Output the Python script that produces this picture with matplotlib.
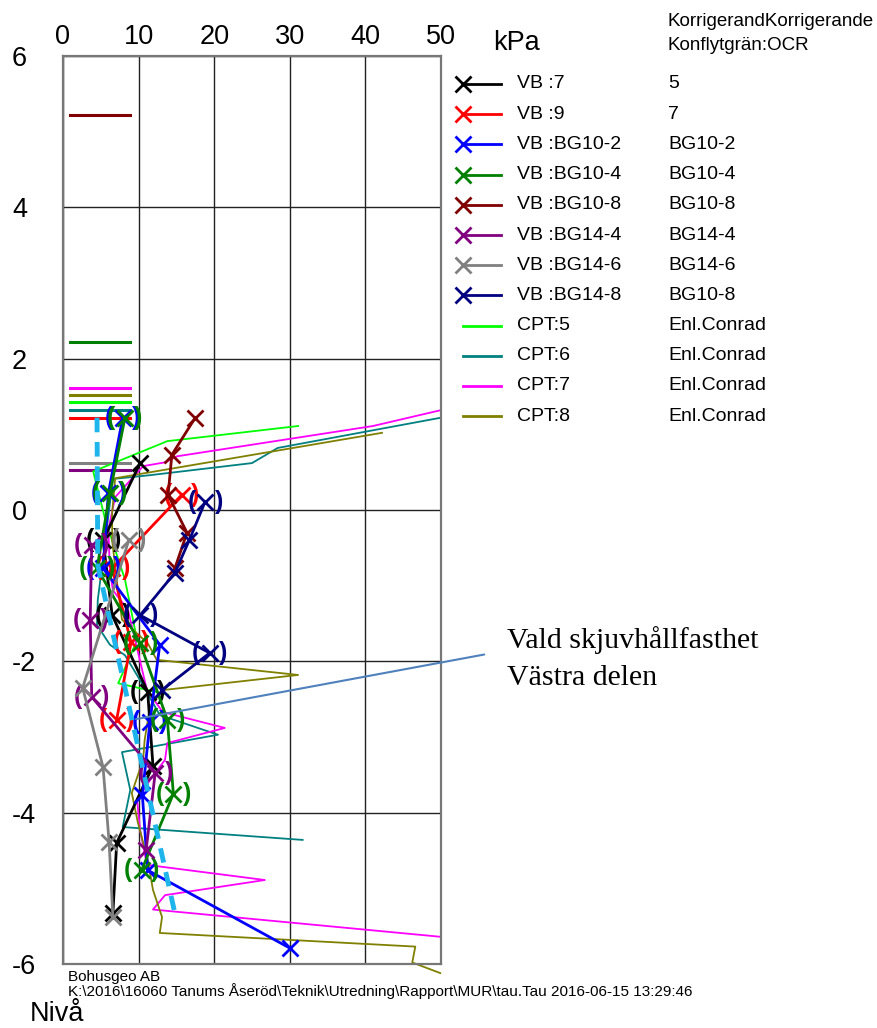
import matplotlib
matplotlib.use("Agg")
import matplotlib.pyplot as plt

# ---- data (kPa, level) ----
x_ticks = [0, 10, 20, 30, 40, 50]
y_ticks = [6, 4, 2, 0, -2, -4, -6]

vb7_kpa = [10.2, 5.3, 6.5, 11.2, 11.9, 7.1, 6.6]
vb7_niva = [0.62, -0.40, -1.39, -2.40, -3.38, -4.40, -5.33]
vb7_brk = [0, 1, 1, 1, 0, 0, 0]

vb9_kpa = [15.7, 6.5, 9.0, 7.1]
vb9_niva = [0.20, -0.77, -1.75, -2.77]
vb9_brk = [1, 1, 1, 1]

bg10_2_kpa = [7.9, 6.0, 5.3, 12.8, 11.5, 10.5, 11.2, 30.0]
bg10_2_niva = [1.22, 0.22, -0.77, -1.78, -2.80, -3.77, -4.76, -5.79]
bg10_2_brk = [1, 1, 1, 0, 1, 0, 0, 0]

bg10_4_kpa = [8.2, 6.2, 4.5, 10.2, 13.8, 14.6, 10.4]
bg10_4_niva = [1.22, 0.22, -0.77, -1.76, -2.77, -3.75, -4.76]
bg10_4_brk = [1, 1, 1, 1, 1, 1, 1]

bg10_8_kpa = [17.5, 14.4, 13.9, 16.4, 14.8]
bg10_8_niva = [1.22, 0.73, 0.20, -0.30, -0.77]
bg10_8_brk = [0, 0, 0, 0, 0]

bg14_4_kpa = [3.8, 3.6, 3.8, 12.2, 11.0]
bg14_4_niva = [-0.46, -1.45, -2.47, -3.47, -4.49]
bg14_4_brk = [1, 1, 1, 1, 0]

bg14_6_kpa = [8.7, 2.6, 5.3, 6.1, 6.6]
bg14_6_niva = [-0.40, -2.35, -3.40, -4.39, -5.38]
bg14_6_brk = [1, 0, 0, 0, 0]

bg14_8_kpa = [18.8, 16.7, 14.8, 10.2, 19.4, 13.1]
bg14_8_niva = [0.11, -0.40, -0.83, -1.39, -1.89, -2.38]
bg14_8_brk = [1, 0, 0, 1, 1, 0]

cpt5_kpa = [31.1, 13.8, 4.0, 5.6, 8.2, 9.8, 7.3, 13.9]
cpt5_niva = [1.11, 0.91, 0.51, -0.13, -0.92, -1.72, -2.29, -2.44]

cpt6_kpa = [50.0, 28.4, 25.0, 11.5, 6.6, 5.6, 4.6, 4.5, 6.2, 8.2, 10.2, 12.8,
            20.5, 7.8, 8.9, 7.9, 31.7]
cpt6_niva = [1.22, 0.82, 0.62, 0.46, 0.41, -0.40, -1.19, -1.52, -1.78, -1.92,
             -2.25, -2.71, -2.97, -3.20, -3.70, -4.19, -4.36]

cpt7_kpa = [50.0, 41.0, 15.1, 13.5, 10.6, 6.9, 6.0, 6.2, 6.6, 8.6, 11.1, 13.2,
            21.4, 13.8, 13.5, 11.5, 9.8, 10.2, 11.1, 26.7, 13.5, 11.9, 49.9]
cpt7_niva = [1.32, 1.11, 0.71, 0.63, 0.58, 0.17, -0.26, -0.79, -1.06, -1.32,
             -2.38, -2.67, -2.88, -3.08, -3.30, -3.57, -3.83, -4.23, -4.69,
             -4.89, -5.09, -5.28, -5.64]

cpt8_kpa = [42.2, 6.9, 6.5, 6.5, 7.1, 7.8, 11.2, 12.4, 31.1, 13.2, 11.5, 10.8,
            10.6, 9.1, 9.9, 11.2, 11.9, 13.1, 12.8, 46.6, 46.2, 49.9]
cpt8_niva = [1.02, 0.42, -0.04, -0.40, -0.92, -1.45, -1.76, -1.98, -2.18,
             -2.38, -2.60, -3.04, -3.30, -3.74, -4.13, -4.62, -5.02, -5.38,
             -5.59, -5.77, -5.98, -6.12]

# ground surface marks
surf_niva = [5.22, 2.22, 1.61, 1.52, 1.43, 1.32, 1.22, 0.62, 0.53]
surf_colors = ["#800000", "#008000", "#ff00ff", "#808000", "#00ff00",
               "#008080", "#ff0000", "#808080", "#800080"]
surf_kpa = [0.9, 8.9]

# chosen shear strength
vald_kpa = [4.5, 4.6, 14.8]
vald_niva = [1.22, -0.73, -5.33]

vb_series = [
    ("VB :7", "5", vb7_kpa, vb7_niva, vb7_brk, "#000000"),
    ("VB :9", "7", vb9_kpa, vb9_niva, vb9_brk, "#ff0000"),
    ("VB :BG10-2", "BG10-2", bg10_2_kpa, bg10_2_niva, bg10_2_brk, "#0000ff"),
    ("VB :BG10-4", "BG10-4", bg10_4_kpa, bg10_4_niva, bg10_4_brk, "#008000"),
    ("VB :BG10-8", "BG10-8", bg10_8_kpa, bg10_8_niva, bg10_8_brk, "#800000"),
    ("VB :BG14-4", "BG14-4", bg14_4_kpa, bg14_4_niva, bg14_4_brk, "#800080"),
    ("VB :BG14-6", "BG14-6", bg14_6_kpa, bg14_6_niva, bg14_6_brk, "#808080"),
    ("VB :BG14-8", "BG10-8", bg14_8_kpa, bg14_8_niva, bg14_8_brk, "#000080"),
]
cpt_series = [
    ("CPT:5", "Enl.Conrad", cpt5_kpa, cpt5_niva, "#00ff00"),
    ("CPT:6", "Enl.Conrad", cpt6_kpa, cpt6_niva, "#008080"),
    ("CPT:7", "Enl.Conrad", cpt7_kpa, cpt7_niva, "#ff00ff"),
    ("CPT:8", "Enl.Conrad", cpt8_kpa, cpt8_niva, "#808000"),
]

plt.rcParams["font.family"] = ["Liberation Sans", "DejaVu Sans"]

W, H = 878, 1028
fig = plt.figure(figsize=(W / 100, H / 100), dpi=100)
ax = fig.add_axes([63 / W, 1 - 964 / H, (441 - 63) / W, (964 - 56) / H])
ax.set_xlim(0, 50)
ax.set_ylim(-6, 6)
ax.xaxis.tick_top()
ax.set_xticks(x_ticks)
ax.set_xticklabels([str(v) for v in x_ticks])
ax.set_yticks(y_ticks)
ax.set_yticklabels([str(v) for v in y_ticks])
ax.tick_params(length=0, labelsize=19.5)
ax.tick_params(axis="x", pad=4)
ax.tick_params(axis="y", pad=51 * 0.72)
for lbl in ax.get_yticklabels():
    lbl.set_ha("left")
ax.grid(True, color="#222222", lw=1.0)
ax.set_axisbelow(True)
for sp in ax.spines.values():
    sp.set_color("#777777")
    sp.set_linewidth(1.6)

# ---- plot ----
for lvl, c in zip(surf_niva, surf_colors):
    ax.plot(surf_kpa, [lvl, lvl], color=c, lw=2.2, zorder=2)

for name, _, kpa, niva, c in cpt_series:
    ax.plot(kpa, niva, color=c, lw=1.3, zorder=2, clip_on=False)

for name, _, kpa, niva, brk, c in vb_series:
    ax.plot(kpa, niva, color=c, lw=2.0, marker="x", ms=12, mew=2.0, zorder=3)
    for xk, yn, b in zip(kpa, niva, brk):
        if b:
            # bracketed values
            for s, off in (("(", -9.8), (")", 9.8)):
                ax.annotate(s, (xk, yn), xytext=(off, 0), textcoords="offset points",
                            ha="center", va="center", fontsize=18, fontweight="bold",
                            color=c, zorder=3)

ax.plot(vald_kpa, vald_niva, color="#1eb4ec", lw=3.5, ls=(0, (3, 2)), zorder=4)

ax.annotate("", xy=(9.3, -2.77), xytext=(487, H - 654), textcoords="figure pixels",
            arrowprops=dict(arrowstyle="-", color="#4f81bd", lw=1.5), zorder=5)

# ---- legend and texts, laid out in pixel units ----
lay = fig.add_axes([0, 0, 1, 1])
lay.set_xlim(0, W)
lay.set_ylim(H, 0)
lay.axis("off")

y0, dy = 84, 30.2
row = 0
for name, col2, kpa, niva, brk, c in vb_series:
    y = y0 + row * dy
    lay.plot([463, 501], [y, y], color=c, lw=2.0)
    lay.plot([463], [y], marker="x", ms=12, mew=2.0, color=c)
    lay.text(517, y, name, fontsize=14, va="center")
    lay.text(668, y, col2, fontsize=14, va="center")
    row += 1
for name, col2, kpa, niva, c in cpt_series:
    y = y0 + row * dy
    lay.plot([463, 501], [y, y], color=c, lw=2.0)
    lay.text(517, y, name, fontsize=14, va="center")
    lay.text(668, y, col2, fontsize=14, va="center")
    row += 1

lay.text(668, 22, "KorrigerandKorrigerande", fontsize=13.5, va="center")
lay.text(668, 45, "Konflytgrän:OCR", fontsize=13.5, va="center")
lay.text(493, 50, "kPa", fontsize=19.5, va="baseline")
lay.text(30, 1021, "Nivå", fontsize=19.5, va="baseline")
lay.text(68, 981, "Bohusgeo AB", fontsize=11, va="baseline")
lay.text(68, 996, "K:\\2016\\16060 Tanums Åseröd\\Teknik\\Utredning\\Rapport\\MUR\\tau.Tau 2016-06-15 13:29:46",
         fontsize=11, va="baseline")
lay.text(507, 648, "Vald skjuvhållfasthet", fontsize=21.5, va="baseline",
         family=["Liberation Serif", "DejaVu Serif"])
lay.text(507, 685, "Västra delen", fontsize=21.5, va="baseline",
         family=["Liberation Serif", "DejaVu Serif"])

fig.savefig("out.png", dpi=100)
